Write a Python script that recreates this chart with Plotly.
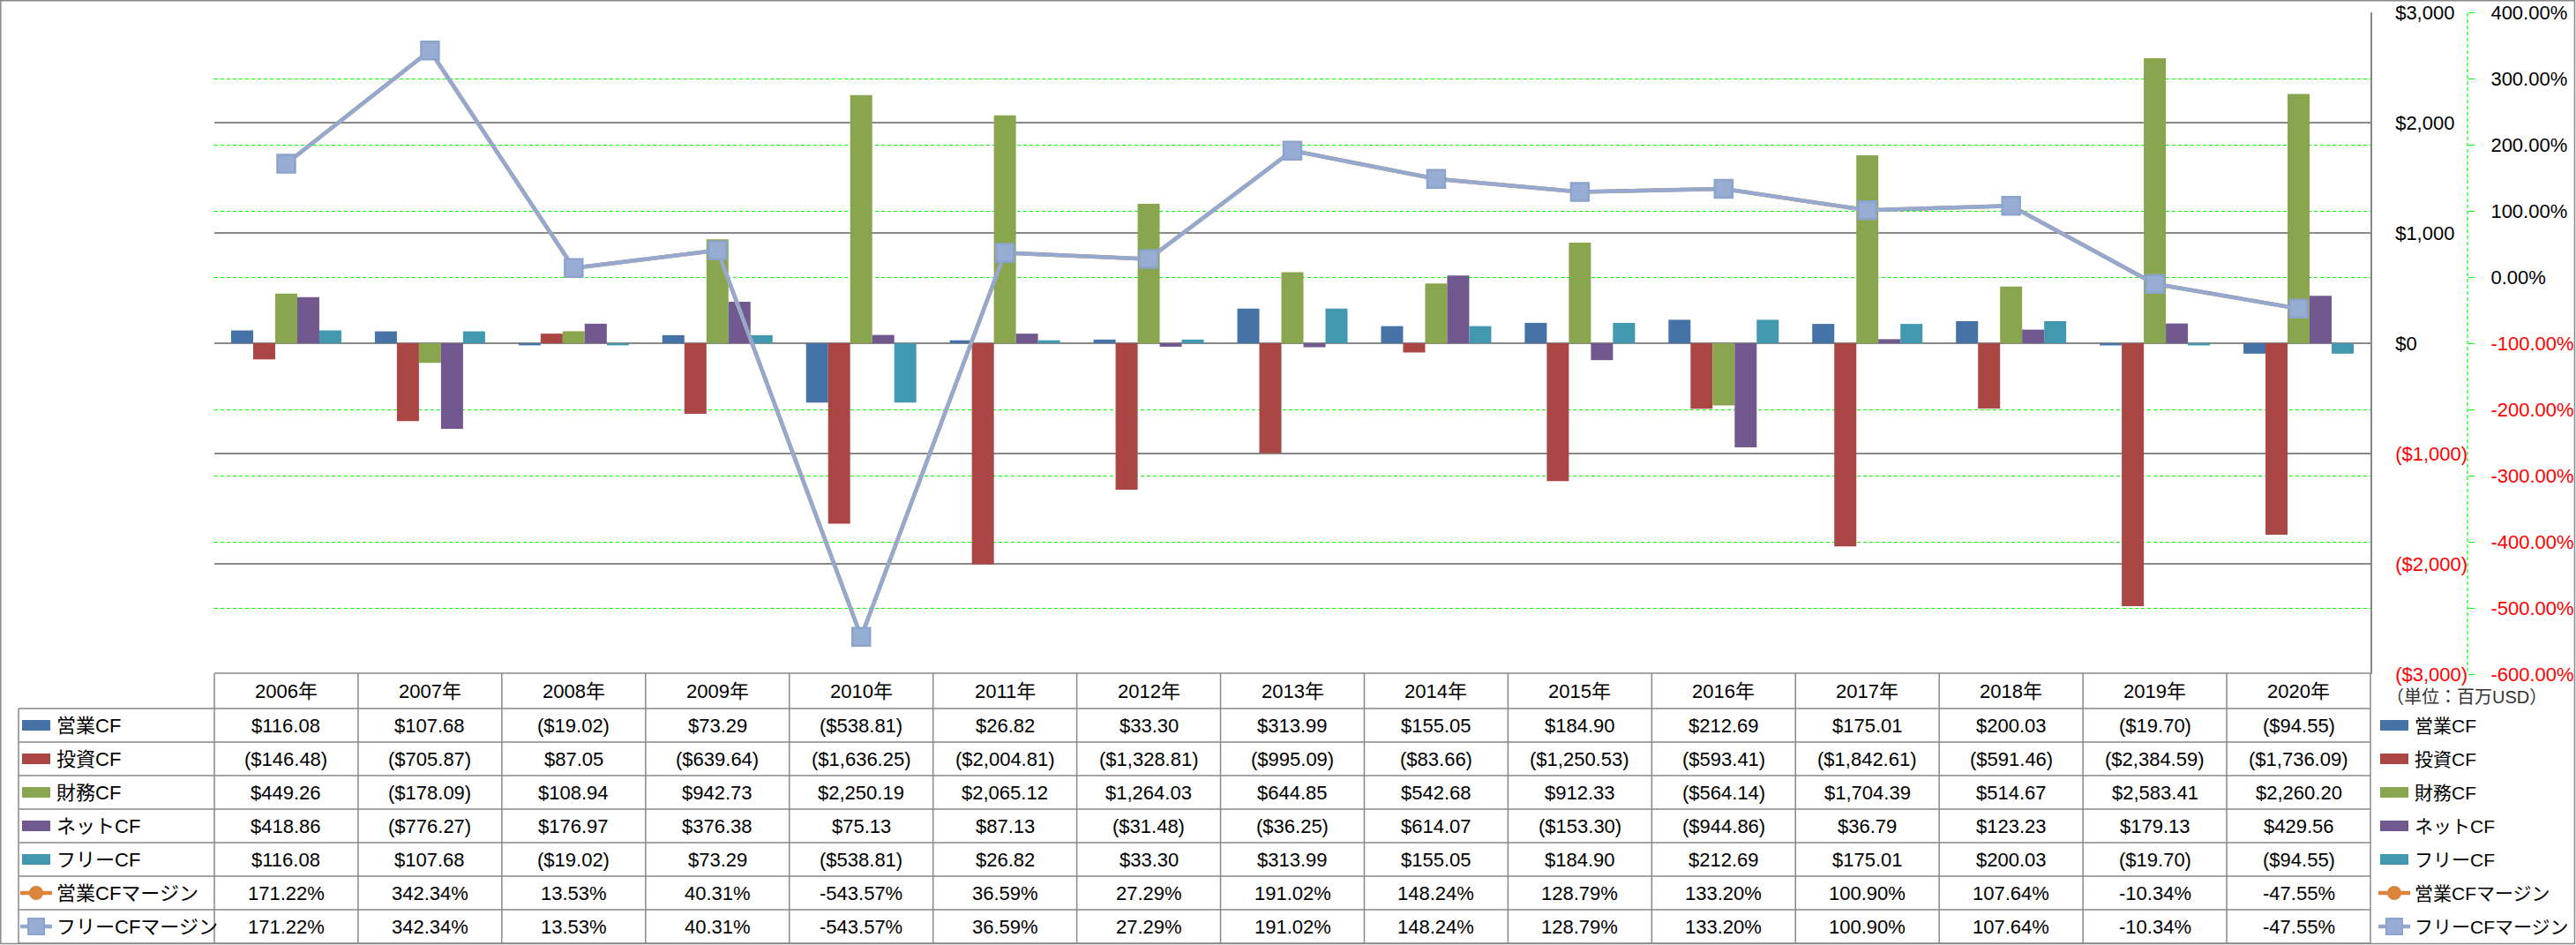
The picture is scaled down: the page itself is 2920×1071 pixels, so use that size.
import plotly.graph_objects as go

W, H = 2920, 1071

years = ["2006年", "2007年", "2008年", "2009年", "2010年", "2011年", "2012年", "2013年",
         "2014年", "2015年", "2016年", "2017年", "2018年", "2019年", "2020年"]

op_cf = [116.08, 107.68, -19.02, 73.29, -538.81, 26.82, 33.30, 313.99, 155.05, 184.90,
         212.69, 175.01, 200.03, -19.70, -94.55]
inv_cf = [-146.48, -705.87, 87.05, -639.64, -1636.25, -2004.81, -1328.81, -995.09, -83.66,
          -1250.53, -593.41, -1842.61, -591.46, -2384.59, -1736.09]
fin_cf = [449.26, -178.09, 108.94, 942.73, 2250.19, 2065.12, 1264.03, 644.85, 542.68,
          912.33, -564.14, 1704.39, 514.67, 2583.41, 2260.20]
net_cf = [418.86, -776.27, 176.97, 376.38, 75.13, 87.13, -31.48, -36.25, 614.07, -153.30,
          -944.86, 36.79, 123.23, 179.13, 429.56]
free_cf = [116.08, 107.68, -19.02, 73.29, -538.81, 26.82, 33.30, 313.99, 155.05, 184.90,
           212.69, 175.01, 200.03, -19.70, -94.55]
op_margin = [171.22, 342.34, 13.53, 40.31, -543.57, 36.59, 27.29, 191.02, 148.24, 128.79,
             133.20, 100.90, 107.64, -10.34, -47.55]
free_margin = [171.22, 342.34, 13.53, 40.31, -543.57, 36.59, 27.29, 191.02, 148.24, 128.79,
               133.20, 100.90, 107.64, -10.34, -47.55]

bar_names = ["営業CF", "投資CF", "財務CF", "ネットCF", "フリーCF"]
bar_colors = ["#4572A7", "#AA4643", "#89A54E", "#71588F", "#4198AF"]
line_names = ["営業CFマージン", "フリーCFマージン"]
line_colors = ["#DB843D", "#93A9CF"]

usd_ticks = [3000, 2000, 1000, 0, -1000, -2000, -3000]
pct_ticks = [400, 300, 200, 100, 0, -100, -200, -300, -400, -500, -600]
unit_label = "（単位：百万USD）"

FONT = "Liberation Sans, Noto Sans CJK JP, sans-serif"
GRAY = "#898989"
RED = "#FF0000"


def px(x):
    return x / W


def py(y):
    return 1 - y / H


def fmt_usd(v):
    return f"${v:,.2f}" if v >= 0 else f"(${-v:,.2f})"


def fmt_pct(v):
    return f"{v:.2f}%"


def usd_tick(v):
    return f"${v:,.0f}" if v >= 0 else f"<span style='color:{RED}'>(${-v:,.0f})</span>"


def pct_tick(v):
    s = f"{v:.2f}%"
    return s if v >= 0 else f"<span style='color:{RED}'>{s}</span>"


fig = go.Figure()
bar_series = [op_cf, inv_cf, fin_cf, net_cf, free_cf]
for name, vals, col in zip(bar_names, bar_series, bar_colors):
    fig.add_trace(go.Bar(x=years, y=vals, name=name, marker=dict(color=col, line=dict(width=0)),
                         yaxis="y", showlegend=False))

fig.add_trace(go.Scatter(x=years, y=op_margin, name=line_names[0], yaxis="y2", mode="lines+markers",
                         line=dict(color=line_colors[0], width=4.5),
                         marker=dict(symbol="circle", size=16, color=line_colors[0]), showlegend=False))
fig.add_trace(go.Scatter(x=years, y=free_margin, name=line_names[1], yaxis="y2", mode="lines+markers",
                         line=dict(color=line_colors[1], width=4.5),
                         marker=dict(symbol="square", size=20, color="#97ADD4",
                                     line=dict(color="#8CA4CC", width=2.5)), showlegend=False))

y_dom = [py(764), py(14)]
x_dom = [px(243), px(2687)]

fig.update_layout(
    width=W, height=H,
    margin=dict(l=0, r=0, t=0, b=0, autoexpand=False),
    paper_bgcolor="white", plot_bgcolor="white",
    font=dict(family=FONT, size=22, color="#000000"),
    barmode="group", bargap=0.233, bargroupgap=0,
    xaxis=dict(domain=x_dom, type="category", range=[-0.5, len(years) - 0.5],
               showticklabels=False, showgrid=False,
               showline=False, zeroline=False, ticks=""),
    yaxis=dict(domain=y_dom, range=[-3000, 3000], side="right", tickvals=usd_ticks,
               ticktext=[usd_tick(v) for v in usd_ticks], showgrid=True, gridcolor=GRAY,
               gridwidth=1.5, zeroline=True, zerolinecolor=GRAY, zerolinewidth=1.5,
               showline=True, linecolor=GRAY, linewidth=1.5, ticks="", ticklabelstandoff=22,
               tickfont=dict(size=22)),
    yaxis2=dict(domain=y_dom, range=[-600, 400], overlaying="y", anchor="free", side="right",
                position=px(2797), tickvals=pct_ticks, ticktext=[pct_tick(v) for v in pct_ticks],
                showgrid=True, gridcolor="#00FF00", griddash="4px,3px", gridwidth=1.2,
                zeroline=False, showline=False, ticks="outside", ticklen=7, tickcolor="#00FF00",
                tickwidth=1.2, ticklabelstandoff=14, tickfont=dict(size=22)),
)

shapes = []
# green dashed secondary axis line
shapes.append(dict(type="line", xref="paper", yref="paper", x0=px(2797), x1=px(2797),
                   y0=py(15), y1=py(762), line=dict(color="#00FF00", width=1.2, dash="4px,3px")))
# outer border
shapes.append(dict(type="rect", xref="paper", yref="paper", x0=px(0.8), x1=px(2918.5),
                   y0=py(1069.5), y1=py(0.8), line=dict(color=GRAY, width=1.5)))
# table
col_w = (2687 - 243) / len(years)
row_lines = [803, 841, 879, 917, 955, 993, 1031, 1069]
shapes.append(dict(type="line", xref="paper", yref="paper", x0=px(243), x1=px(2687),
                   y0=py(763), y1=py(763), line=dict(color=GRAY, width=1.5)))
for yl in row_lines:
    shapes.append(dict(type="line", xref="paper", yref="paper", x0=px(21), x1=px(2687),
                       y0=py(yl), y1=py(yl), line=dict(color=GRAY, width=1.5)))
shapes.append(dict(type="line", xref="paper", yref="paper", x0=px(21), x1=px(21),
                   y0=py(803), y1=py(1069), line=dict(color=GRAY, width=1.5)))
for k in range(len(years) + 1):
    xv = 243 + col_w * k
    shapes.append(dict(type="line", xref="paper", yref="paper", x0=px(xv), x1=px(xv),
                       y0=py(763), y1=py(1069), line=dict(color=GRAY, width=1.5)))

annotations = []
TFS = 22
header_c = 783
row_c = [822, 860, 898, 936, 974, 1012, 1050]
for yr in years:
    annotations.append(dict(x=yr, xref="x", y=py(header_c), yref="paper", text=yr, showarrow=False,
                            xanchor="center", yanchor="middle", font=dict(size=TFS)))
all_rows = bar_series + [op_margin, free_margin]
for r, vals in enumerate(all_rows):
    for yr, v in zip(years, vals):
        txt = fmt_usd(v) if r < 5 else fmt_pct(v)
        annotations.append(dict(x=yr, xref="x", y=py(row_c[r]), yref="paper", text=txt,
                                showarrow=False, xanchor="center", yanchor="middle",
                                font=dict(size=TFS)))

# legend keys (left in table, right beside axes)
all_names = bar_names + line_names
for sx0, tx, fs in [(25, 62, 22), (2698, 2735, 21)]:
    for r, name in enumerate(all_names):
        yc = row_c[r]
        if r < 5:
            shapes.append(dict(type="rect", xref="paper", yref="paper", x0=px(sx0), x1=px(sx0 + 32),
                               y0=py(yc + 6), y1=py(yc - 6), fillcolor=bar_colors[r],
                               line=dict(width=0)))
        else:
            lc = line_colors[r - 5]
            shapes.append(dict(type="line", xref="paper", yref="paper", x0=px(sx0 - 2), x1=px(sx0 + 34),
                               y0=py(yc), y1=py(yc), line=dict(color=lc, width=4.5)))
            cx = sx0 + 16
            if r == 5:
                shapes.append(dict(type="circle", xref="paper", yref="paper", x0=px(cx - 8),
                                   x1=px(cx + 8), y0=py(yc + 8), y1=py(yc - 8), fillcolor=lc,
                                   line=dict(width=0)))
            else:
                shapes.append(dict(type="rect", xref="paper", yref="paper", x0=px(cx - 9),
                                   x1=px(cx + 9), y0=py(yc + 9), y1=py(yc - 9), fillcolor="#97ADD4",
                                   line=dict(color="#8CA4CC", width=2)))
        annotations.append(dict(x=px(tx), xref="paper", y=py(yc), yref="paper", text=name,
                                showarrow=False, xanchor="left", yanchor="middle",
                                font=dict(size=fs)))

annotations.append(dict(x=px(2703), xref="paper", y=py(790), yref="paper", text=unit_label,
                        showarrow=False, xanchor="left", yanchor="middle",
                        font=dict(size=20, color="#333333")))

fig.update_layout(shapes=shapes, annotations=annotations)
fig.write_html("out.html", config={"displayModeBar": False},
               post_script="document.body.style.margin='0';")
